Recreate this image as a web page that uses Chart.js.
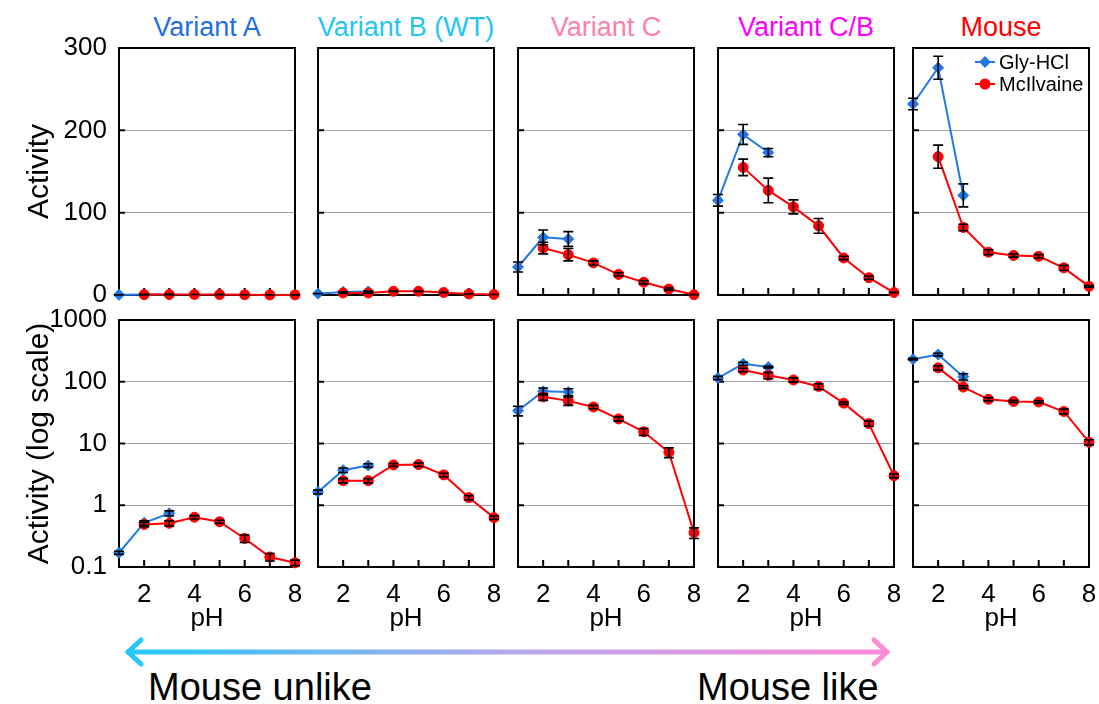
<!DOCTYPE html>
<html lang="en">
<head>
  <meta charset="UTF-8" />
  <title>pH activity profiles</title>
  <style>
    body {
      margin: 0;
      background: #fff;
      font-family: "Liberation Sans", Arial, sans-serif;
    }
    #wrap {
      position: relative;
      width: 1099px;
      height: 704px;
      overflow: hidden;
    }
    canvas { position: absolute; }
    .ttl {
      position: absolute;
      top: 14px;
      width: 220px;
      text-align: center;
      font-size: 27px;
      line-height: 27px;
      white-space: nowrap;
    }
    .note {
      position: absolute;
      top: 668px;
      font-size: 38px;
      line-height: 38px;
      white-space: nowrap;
    }
  </style>
</head>
<body>
  <div id="wrap">
    <svg width="1099" height="704" style="position:absolute;left:0;top:0">
      <defs>
        <linearGradient id="arrowGrad" x1="125" y1="0" x2="890" y2="0" gradientUnits="userSpaceOnUse">
          <stop offset="0" stop-color="#22c8f8"/>
          <stop offset="0.5" stop-color="#b4a8ec"/>
          <stop offset="1" stop-color="#ff8ad6"/>
        </linearGradient>
      </defs>
      <g stroke="url(#arrowGrad)" stroke-width="5" fill="none" stroke-linecap="round" stroke-linejoin="round">
        <line x1="128" y1="652" x2="887" y2="652"/>
        <polyline points="141,640 128,652 141,664"/>
        <polyline points="874,640 887,652 874,664"/>
      </g>
    </svg>
    <div class="note" style="left:148px">Mouse unlike</div>
    <div class="note" style="left:697px">Mouse like</div>
  </div>

  <script src="https://cdn.jsdelivr.net/npm/chart.js"></script>
  <script>
    // pH values
    const phGly = [1, 2, 3];
    const phMc = [2, 3, 4, 5, 6, 7, 8];

    const variantNames = ["Variant A", "Variant B (WT)", "Variant C", "Variant C/B", "Mouse"];
    const variantColors = ["#1f6fe6", "#22c6f2", "#ff7fa6", "#ff00ff", "#ff0000"];

    // activity (mean) and error, per variant
    const glyA = [0.17, 0.52, 0.74];
    const glyAErr = [0.01, 0.04, 0.07];
    const mcA = [0.49, 0.51, 0.64, 0.54, 0.29, 0.145, 0.117];
    const mcAErr = [0.04, 0.05, 0.04, 0.03, 0.04, 0.02, 0.012];

    const glyB = [1.64, 3.7, 4.4];
    const glyBErr = [0.12, 0.3, 0.3];
    const mcB = [2.5, 2.5, 4.5, 4.55, 3.1, 1.33, 0.63];
    const mcBErr = [0.2, 0.2, 0.25, 0.3, 0.2, 0.1, 0.04];

    const glyC = [34, 70, 68];
    const glyCErr = [6, 9, 9];
    const mcC = [57, 49, 39, 25, 15.5, 7.2, 0.36];
    const mcCErr = [7, 7.5, 2.5, 2, 2, 1.3, 0.07];

    const glyCB = [115, 195, 173];
    const glyCBErr = [7, 12, 5];
    const mcCB = [155, 127, 107, 84, 45, 21, 3.0];
    const mcCBErr = [10, 15, 8.5, 9, 2, 2, 0.2];

    const glyM = [232, 276, 121];
    const glyMErr = [7, 14, 14];
    const mcM = [168, 82, 52, 48, 47, 33, 10.5];
    const mcMErr = [14, 4, 3, 2, 2, 3, 1];

    // axis ticks
    const linTicks = [0, 100, 200, 300];
    const logTicks = [0.1, 1, 10, 100, 1000];
    const xTickVals = [1, 2, 3, 4, 5, 6, 7, 8];
    const xLabelVals = [2, 4, 6, 8];

    const panels = [
      { gly: glyA, glyErr: glyAErr, mc: mcA, mcErr: mcAErr },
      { gly: glyB, glyErr: glyBErr, mc: mcB, mcErr: mcBErr },
      { gly: glyC, glyErr: glyCErr, mc: mcC, mcErr: mcCErr },
      { gly: glyCB, glyErr: glyCBErr, mc: mcCB, mcErr: mcCBErr },
      { gly: glyM, glyErr: glyMErr, mc: mcM, mcErr: mcMErr }
    ];

    const BLUE = "#1f78e6";
    const RED = "#ff0000";

    // panel layout (pixels)
    const colLeft = [119, 318, 518, 718, 913];
    const rowTop = [48, 320];
    const panelW = 176, panelH = 247;

    Chart.defaults.font.family = '"Liberation Sans", Arial, sans-serif';
    Chart.defaults.color = "#000";

    // box round the plot area and inward tick marks
    const frame = {
      id: "frame",
      beforeDatasetsDraw(chart) {
        const { ctx, chartArea: a, scales: { x, y } } = chart;
        ctx.save();
        ctx.strokeStyle = "#000";
        ctx.lineWidth = 2;
        ctx.strokeRect(a.left, a.top, a.right - a.left, a.bottom - a.top);
        ctx.beginPath();
        x.ticks.forEach(t => {
          if (t.value <= x.min || t.value >= x.max) return;
          const px = x.getPixelForValue(t.value);
          ctx.moveTo(px, a.bottom);
          ctx.lineTo(px, a.bottom - 7);
        });
        y.ticks.forEach(t => {
          if (t.value <= y.min || t.value >= y.max) return;
          const py = y.getPixelForValue(t.value);
          ctx.moveTo(a.left, py);
          ctx.lineTo(a.left + 6, py);
        });
        ctx.stroke();
        ctx.restore();
      }
    };

    const errorBars = {
      id: "errorBars",
      afterDatasetsDraw(chart) {
        const { ctx, scales: { y } } = chart;
        ctx.save();
        ctx.strokeStyle = "#000";
        ctx.lineWidth = 1.6;
        chart.data.datasets.forEach((ds, di) => {
          const meta = chart.getDatasetMeta(di);
          meta.data.forEach((pt, i) => {
            const v = ds.data[i].y, e = ds.err[i];
            let lo = v - e;
            if (lo <= 0 && y.type === "logarithmic") lo = y.min;
            const yTop = y.getPixelForValue(v + e);
            const yBot = y.getPixelForValue(lo);
            ctx.beginPath();
            ctx.moveTo(pt.x, yTop); ctx.lineTo(pt.x, yBot);
            ctx.moveTo(pt.x - 5, yTop); ctx.lineTo(pt.x + 5, yTop);
            ctx.moveTo(pt.x - 5, yBot); ctx.lineTo(pt.x + 5, yBot);
            ctx.stroke();
          });
        });
        ctx.restore();
      }
    };

    // small key in the corner of one panel
    const seriesKey = {
      id: "seriesKey",
      afterDatasetsDraw(chart, args, opts) {
        if (!opts.show) return;
        const { ctx, chartArea: a } = chart;
        ctx.save();
        ctx.font = '20px "Liberation Sans", Arial, sans-serif';
        ctx.textBaseline = "middle";
        chart.data.datasets.forEach((ds, i) => {
          const y = a.top + 14 + i * 22;
          const x0 = a.left + 62;
          ctx.strokeStyle = ds.borderColor;
          ctx.fillStyle = ds.backgroundColor;
          ctx.lineWidth = 2;
          ctx.beginPath();
          ctx.moveTo(x0, y); ctx.lineTo(x0 + 20, y);
          ctx.stroke();
          Chart.helpers.drawPoint(ctx, { pointStyle: ds.pointStyle, radius: 4.5, borderWidth: 1, rotation: 0 }, x0 + 10, y);
          ctx.fillStyle = "#000";
          ctx.fillText(ds.label, x0 + 24, y + 1);
        });
        ctx.restore();
      }
    };

    function makeConfig(p, row, col, pad) {
      const isLog = row === 1;
      return {
        type: "line",
        data: {
          datasets: [
            {
              label: "Gly-HCl",
              data: phGly.map((x, i) => ({ x, y: p.gly[i] })),
              err: p.glyErr,
              borderColor: BLUE,
              backgroundColor: BLUE,
              pointStyle: "rectRot",
              pointRadius: 5.5,
              pointBorderWidth: 1,
              borderWidth: 2,
              clip: false,
              order: 1
            },
            {
              label: "McIlvaine",
              data: phMc.map((x, i) => ({ x, y: p.mc[i] })),
              err: p.mcErr,
              borderColor: RED,
              backgroundColor: RED,
              pointStyle: "circle",
              pointRadius: 5,
              pointBorderWidth: 1,
              borderWidth: 2,
              clip: false,
              order: 0
            }
          ]
        },
        options: {
          responsive: false,
          animation: false,
          layout: { padding: { top: pad.t, right: pad.r, left: 0, bottom: 0 } },
          plugins: {
            legend: { display: false },
            tooltip: { enabled: false },
            seriesKey: { show: row === 0 && col === 4 }
          },
          scales: {
            x: {
              type: "linear",
              min: 1,
              max: 8,
              afterBuildTicks: s => { s.ticks = xTickVals.map(v => ({ value: v })); },
              afterFit: s => { s.height = pad.b; },
              grid: { display: false },
              border: { display: false },
              ticks: {
                display: row === 1,
                autoSkip: false,
                maxRotation: 0,
                padding: 4,
                font: { size: 26 },
                callback: v => (xLabelVals.includes(v) ? String(v) : "")
              },
              title: {
                display: row === 1,
                text: "pH",
                font: { size: 26 },
                padding: { top: 0, bottom: 6 }
              }
            },
            y: {
              type: isLog ? "logarithmic" : "linear",
              min: isLog ? 0.1 : 0,
              max: isLog ? 1000 : 300,
              afterBuildTicks: s => {
                s.ticks = (isLog ? logTicks : linTicks).map(v => ({ value: v }));
              },
              afterFit: s => { s.width = pad.l; },
              grid: { color: "#a0a0a0", lineWidth: 1, drawTicks: false },
              border: { display: false },
              ticks: {
                display: col === 0,
                autoSkip: false,
                padding: 12,
                font: { size: 26 },
                callback: v => String(v)
              },
              title: {
                display: col === 0,
                text: isLog ? "Activity (log scale)" : "Activity",
                font: { size: 30 },
                padding: { top: 22, bottom: 0 }
              }
            }
          }
        },
        plugins: [frame, errorBars, seriesKey]
      };
    }

    const wrap = document.getElementById("wrap");

    variantNames.forEach((name, col) => {
      const t = document.createElement("div");
      t.className = "ttl";
      t.textContent = name;
      t.style.color = variantColors[col];
      t.style.left = (colLeft[col] + panelW / 2 - 110) + "px";
      wrap.appendChild(t);
    });

    panels.forEach((p, col) => {
      [0, 1].forEach(row => {
        const pad = {
          l: col === 0 ? colLeft[0] : 14,
          r: 14,
          t: 32,
          b: row === 0 ? 32 : 73
        };
        const w = pad.l + panelW + pad.r;
        const h = pad.t + panelH + pad.b;
        const cv = document.createElement("canvas");
        cv.width = w;
        cv.height = h;
        cv.style.width = w + "px";
        cv.style.height = h + "px";
        cv.style.left = (colLeft[col] - pad.l) + "px";
        cv.style.top = (rowTop[row] - pad.t) + "px";
        wrap.appendChild(cv);
        new Chart(cv, makeConfig(p, row, col, pad));
      });
    });
  </script>
</body>
</html>
